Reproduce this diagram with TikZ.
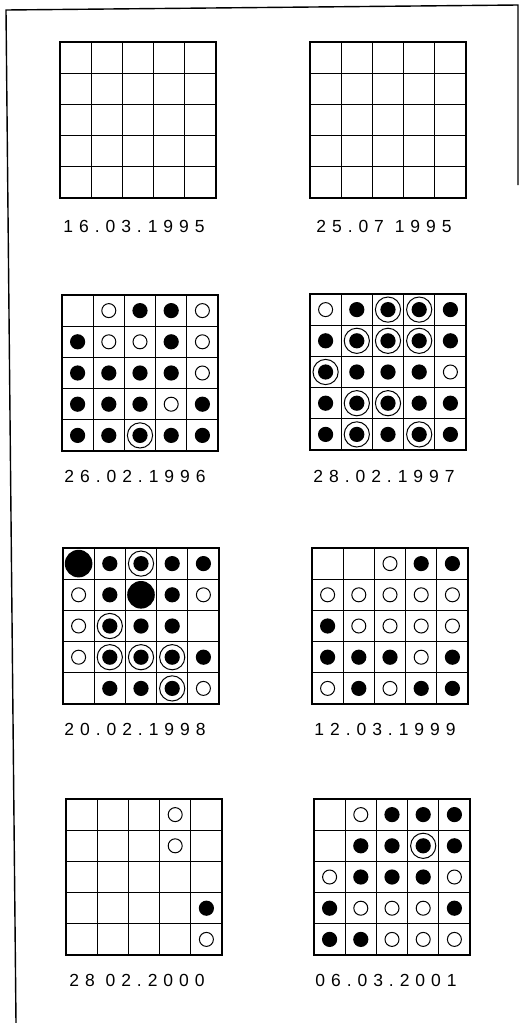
\documentclass[tikz,border=0pt]{standalone}
\usepackage{fontspec}
\setmainfont{Liberation Sans}
\newfontfamily\datefont[LetterSpace=34]{Liberation Sans}
\tikzset{
  gridline/.style={line width=1.3pt, line cap=rect},
  frameline/.style={line width=1.4pt},
  datelabel/.style={font=\datefont\fontsize{17.5}{19}\selectfont, inner sep=0pt, anchor=center},
  cell0/.pic={},
  cello/.pic={\draw[line width=1pt] (0,0) circle (7pt);},
  cellf/.pic={\fill (0,0) circle (7.6pt);},
  cellr/.pic={\fill (0,0) circle (7.6pt); \draw[line width=1pt] (0,0) circle (12.6pt);},
  cellB/.pic={\fill (0,0) circle (13.8pt);}
}
\newcommand\boardat[3]{%
  \begin{scope}[shift={(#1,#2)}]
    \foreach \i in {0,...,5} {
      \draw[gridline] (\i*31.2,0) -- (\i*31.2,156);
      \draw[gridline] (0,\i*31.2) -- (156,\i*31.2);
    }
    \foreach \c [count=\k from 0] in {#3} {
      \pgfmathtruncatemacro\rr{int(\k/5)}
      \pgfmathtruncatemacro\cc{mod(\k,5)}
      \pic at ({\cc*31.2+15.6},{\rr*31.2+15.6}) {cell\c};
    }
  \end{scope}%
}
\begin{document}
\begin{tikzpicture}[x=1pt,y=-1pt]
\useasboundingbox (0,0) rectangle (519,1023);
% frame
\coordinate (ftl) at (6,10);
\coordinate (ftr) at (518,5);
\coordinate (fbl) at (16,1023);
\coordinate (frb) at (518,185);
\draw[frameline] (fbl) -- (ftl) -- (ftr) -- (frb);

% row 1
\boardat{60}{42}{0,0,0,0,0, 0,0,0,0,0, 0,0,0,0,0, 0,0,0,0,0, 0,0,0,0,0}
\boardat{310}{42}{0,0,0,0,0, 0,0,0,0,0, 0,0,0,0,0, 0,0,0,0,0, 0,0,0,0,0}
\node[datelabel] (d1) at (134,226) {16.03.1995};
\node[datelabel] (d2) at (384,226) {25.07 1995};

% row 2
\boardat{62}{295}{0,o,f,f,o, f,o,o,f,o, f,f,f,f,o, f,f,f,o,f, f,f,r,f,f}
\boardat{310}{294}{o,f,r,r,f, f,r,r,r,f, r,f,f,f,o, f,r,r,f,f, f,r,f,r,f}
\node[datelabel] (d3) at (135,476) {26.02.1996};
\node[datelabel] (d4) at (384,476) {28.02.1997};

% row 3
\boardat{63}{548}{B,f,r,f,f, o,f,B,f,o, o,r,f,f,0, o,r,r,r,f, 0,f,f,r,o}
\boardat{312}{548}{0,0,o,f,f, o,o,o,o,o, f,o,o,o,o, f,f,f,o,f, o,f,o,f,f}
\node[datelabel] (d5) at (135,729) {20.02.1998};
\node[datelabel] (d6) at (385,729) {12.03.1999};

% row 4
\boardat{66}{799}{0,0,0,o,0, 0,0,0,o,0, 0,0,0,0,0, 0,0,0,0,f, 0,0,0,0,o}
\boardat{314}{799}{0,o,f,f,f, 0,f,f,r,f, o,f,f,f,o, f,o,o,o,f, f,f,o,o,o}
\node[datelabel] (d7) at (137,980) {28 02.2000};
\node[datelabel] (d8) at (386,980) {06.03.2001};
\end{tikzpicture}
\end{document}
